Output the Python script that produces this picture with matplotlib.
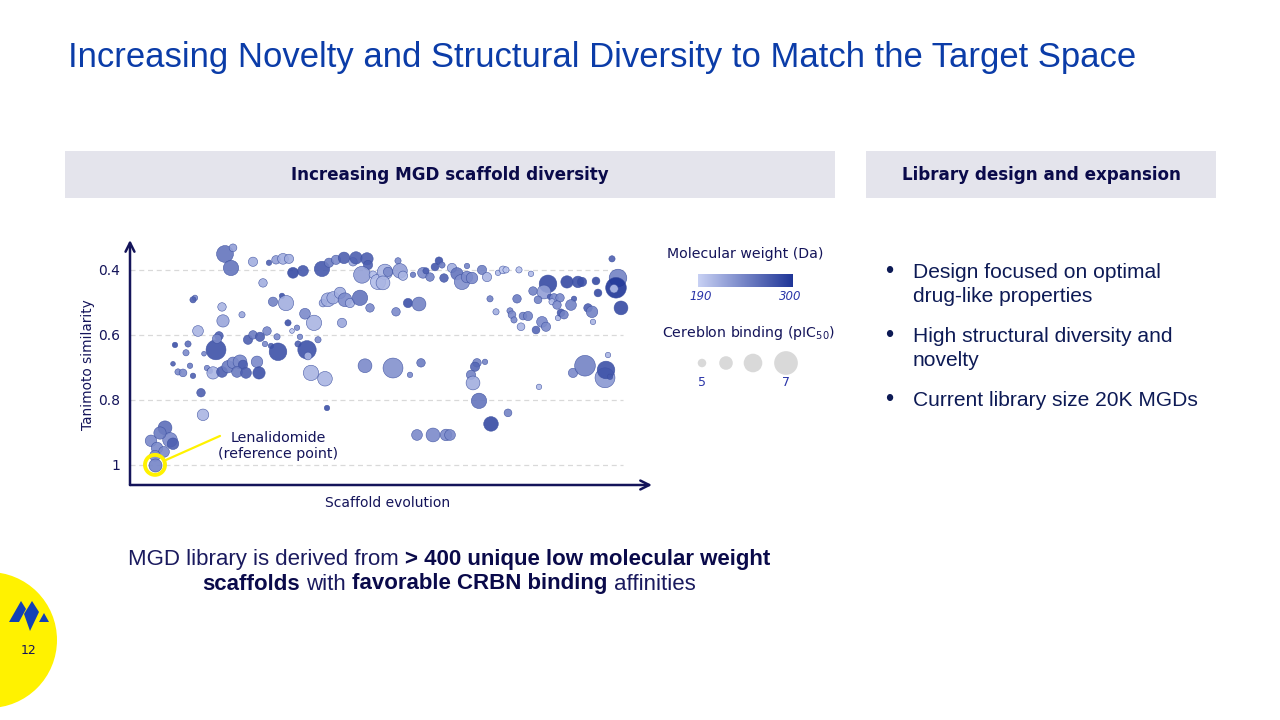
import matplotlib
matplotlib.use('Agg')
import numpy as np
import matplotlib.pyplot as plt
from matplotlib.colors import LinearSegmentedColormap
from matplotlib.patches import Rectangle, Circle, Polygon

W, H, DPI = 1280, 720, 100

# ---- data -----------------------------------------------------------------
# scaffold evolution (unitless position), Tanimoto similarity to lenalidomide,
# molecular weight in Da (colour) and Cereblon binding pIC50 (bubble size)
scaffold = [
    7.0, 4.2, 8.0, 6.0, 5.4, 8.6, 6.8, 5.0,
    14.2, 14.6,
    9.0, 11.6, 11.2, 8.6, 9.6, 10.6, 12.0, 12.6, 15.4, 16.0, 16.6,
    13.0, 12.6, 13.6, 17.2, 17.8, 17.4, 18.4, 18.6, 22.4, 14.8,
    18.4, 19.6, 20.6, 22.0, 22.6, 21.4, 23.2, 25.4, 25.8,
    23.6, 24.6, 26.0, 27.4, 27.0, 28.2, 29.6, 29.4, 31.6, 32.4, 33.4, 34.0, 33.6, 35.4, 35.6, 37.6, 36.8, 35.0, 42.4, 36.2, 39.0, 39.4,
    19.0, 20.6, 20.2, 24.6, 26.6, 27.8, 29.2, 30.6, 31.8, 32.6, 34.6, 38.4, 39.8, 41.2, 42.8, 44.6, 45.2, 47.4, 47.6, 46.4, 48.6, 49.6,
    30.4, 28.6, 31.2, 38.6, 39.6, 40.6, 42.0, 43.0, 44.0, 46.0, 48.0,
    51.0, 50.6, 51.6, 53.6, 54.0, 54.6, 56.6, 58.6, 59.2, 60.0, 61.0, 61.8, 62.4, 62.8, 64.4, 65.4, 66.4, 67.4, 67.4, 68.4, 70.4, 71.4, 73.6, 74.6, 75.2, 77.8, 80.2,
    55.6, 57.8, 53.2, 72.0, 73.2,
    96.4, 83.6, 87.4, 89.6, 90.4, 93.2, 93.6, 97.6, 97.2, 96.8, 98.2,
    77.4, 80.6, 82.8, 81.6, 84.0, 84.8, 84.4, 86.0, 85.4, 88.8, 88.2, 76.0, 76.4, 76.8, 78.6, 79.6, 78.2, 81.2, 82.4, 83.2, 85.6, 86.2, 86.8, 91.6, 92.4, 92.6,
    47.0, 52.6, 56.0, 58.2, 69.4, 69.0, 71.0, 68.2, 68.6, 69.8, 75.6, 72.2, 57.4, 60.6, 63.2, 64.0, 81.8, 88.6, 91.0, 95.0, 95.2, 96.0, 95.6,
]
tanimoto = [
    0.886, 0.926, 0.923, 0.902, 0.948, 0.935, 0.960, 0.972,
    0.778, 0.846,
    0.631, 0.628, 0.655, 0.689, 0.714, 0.717, 0.695, 0.726, 0.702, 0.711, 0.717,
    0.486, 0.492, 0.588, 0.646, 0.603, 0.612, 0.514, 0.557, 0.538, 0.658,
    0.714, 0.698, 0.686, 0.683, 0.692, 0.714, 0.717, 0.683, 0.717,
    0.615, 0.600, 0.606, 0.588, 0.628, 0.634, 0.652, 0.606, 0.563, 0.588, 0.578, 0.606, 0.628, 0.646, 0.665, 0.615, 0.563, 0.535, 0.563, 0.717, 0.735, 0.825,
    0.351, 0.332, 0.394, 0.375, 0.440, 0.378, 0.369, 0.366, 0.366, 0.409, 0.403, 0.397, 0.378, 0.369, 0.363, 0.375, 0.363, 0.366, 0.385, 0.415, 0.415, 0.437,
    0.480, 0.498, 0.502, 0.502, 0.492, 0.486, 0.471, 0.492, 0.502, 0.486, 0.517,
    0.406, 0.440, 0.406, 0.372, 0.403, 0.418, 0.415, 0.409, 0.403, 0.422, 0.391, 0.372, 0.385, 0.425, 0.394, 0.412, 0.437, 0.422, 0.388, 0.425, 0.400, 0.422, 0.409, 0.400, 0.400, 0.400, 0.412,
    0.502, 0.505, 0.529, 0.489, 0.529,
    0.366, 0.443, 0.437, 0.437, 0.437, 0.434, 0.471, 0.425, 0.455, 0.458, 0.517,
    0.489, 0.465, 0.468, 0.492, 0.483, 0.486, 0.498, 0.486, 0.508, 0.489, 0.508, 0.526, 0.538, 0.554, 0.542, 0.542, 0.575, 0.585, 0.560, 0.575, 0.548, 0.532, 0.538, 0.517, 0.529, 0.560,
    0.695, 0.702, 0.723, 0.686, 0.686, 0.698, 0.683, 0.723, 0.748, 0.803, 0.840, 0.874, 0.908, 0.908, 0.908, 0.908, 0.760, 0.717, 0.695, 0.732, 0.708, 0.729, 0.662,
]
mol_weight = [
    260, 240, 240, 250, 240, 270, 240, 240,
    270, 210,
    280, 260, 240, 270, 240, 240, 250, 270, 240, 270, 210,
    240, 270, 210, 280, 270, 240, 210, 220, 220, 240,
    270, 250, 240, 240, 270, 250, 270, 240, 280,
    270, 250, 270, 240, 240, 270, 280, 240, 280, 200, 240, 240, 270, 280, 210, 240, 210, 240, 220, 210, 210, 280,
    255, 225, 255, 215, 215, 270, 225, 215, 215, 285, 275, 275, 250, 240, 270, 220, 270, 270, 270, 225, 205, 205,
    280, 245, 215, 215, 215, 215, 215, 240, 215, 255, 240,
    210, 210, 240, 240, 225, 210, 250, 240, 270, 245, 275, 280, 250, 270, 215, 255, 235, 240, 245, 240, 245, 210, 205, 200, 200, 200, 205,
    280, 245, 240, 245, 215,
    270, 285, 285, 280, 280, 285, 285, 245, 300, 205, 285,
    250, 245, 225, 245, 270, 240, 205, 240, 240, 270, 245, 240, 240, 240, 245, 245, 210, 265, 240, 240, 210, 275, 245, 270, 245, 210,
    240, 235, 240, 250, 245, 265, 245, 245, 215, 255, 245, 285, 240, 240, 240, 240, 205, 240, 245, 230, 280, 275, 210,
]
pic50 = [
    5.7, 5.4, 5.8, 5.5, 5.4, 5.4, 5.3, 5.3,
    5.0, 5.4,
    4.6, 4.7, 4.7, 4.5, 4.7, 4.9, 4.6, 4.6, 4.6, 4.6, 5.5,
    4.6, 4.7, 5.3, 6.5, 5.0, 5.1, 5.0, 5.5, 4.7, 4.5,
    5.3, 5.5, 5.4, 5.7, 5.1, 5.3, 5.3, 5.4, 5.5,
    5.1, 5.0, 5.1, 5.0, 4.6, 4.6, 6.2, 4.7, 4.7, 4.5, 4.6, 4.6, 4.7, 6.3, 4.9, 4.7, 5.9, 5.3, 5.1, 5.9, 5.8, 4.6,
    6.1, 4.9, 5.9, 5.1, 5.0, 4.6, 5.0, 5.3, 5.1, 5.3, 5.3, 5.9, 5.1, 5.1, 5.4, 5.0, 5.5, 5.5, 5.1, 6.1, 4.9, 5.9,
    4.6, 5.1, 5.9, 4.9, 5.7, 5.5, 5.4, 5.7, 5.1, 5.9, 5.0,
    5.9, 5.7, 5.1, 4.7, 5.8, 5.1, 4.6, 5.3, 4.7, 5.0, 4.9, 4.9, 4.7, 5.0, 5.1, 5.5, 5.9, 5.4, 4.6, 5.4, 5.1, 5.1, 4.6, 4.9, 4.7, 4.7, 4.6,
    5.1, 5.7, 5.0, 4.7, 4.7,
    4.7, 6.2, 5.5, 5.4, 5.1, 4.9, 4.9, 6.2, 6.6, 5.0, 5.7,
    5.0, 5.0, 5.7, 4.9, 4.6, 5.0, 4.7, 5.0, 5.0, 4.6, 5.3, 4.7, 4.9, 4.7, 4.9, 5.1, 4.9, 4.9, 5.3, 5.1, 4.6, 4.9, 5.0, 5.0, 5.4, 4.6,
    5.7, 6.5, 4.6, 5.0, 5.0, 5.1, 4.6, 5.1, 5.7, 5.9, 4.9, 5.8, 5.3, 5.7, 5.4, 5.3, 4.6, 5.1, 6.6, 6.5, 6.2, 4.6, 4.6,
]
assert len(scaffold) == len(tanimoto) == len(mol_weight) == len(pic50)

# lenalidomide, the reference compound
lena_scaffold, lena_tanimoto, lena_mw, lena_pic50 = 5.0, 1.0, 240, 5.6

y_ticks = [0.4, 0.6, 0.8, 1.0]
y_tick_labels = ['0.4', '0.6', '0.8', '1']
mw_range = [190, 300]
size_legend = [5.0, 5.67, 6.33, 7.0]
size_legend_labels = ['5', '', '', '7']

bullets = [['Design focused on optimal', 'drug-like properties'],
           ['High structural diversity and', 'novelty'],
           ['Current library size 20K MGDs']]

# ---- styles -----------------------------------------------------------------
NAVY = '#14145a'
TITLE_BLUE = '#0b3ca8'
BAND = '#e4e4ec'
YELLOW = '#fff200'
LEG_BLUE = '#2a35a8'
ARIAL = ['Liberation Sans', 'DejaVu Sans']
TAHOMA = ['DejaVu Sans']

cmap = LinearSegmentedColormap.from_list('mw', ['#c8d1f4', '#1f3597'])


def bubble_area(p):
    d_px = 8.5 + (np.asarray(p, dtype=float) - 5) * 7.6
    return (d_px * 72 / DPI) ** 2


fig = plt.figure(figsize=(W / DPI, H / DPI), dpi=DPI)
renderer = fig.canvas.get_renderer()

# slide canvas in pixel coordinates
bg = fig.add_axes([0, 0, 1, 1], zorder=0)
bg.axis('off')


def fit(t, width):
    w = t.get_window_extent(renderer).width
    t.set_fontsize(t.get_fontsize() * width / w)
    return t.get_fontsize()


# title
t = bg.text(68, 57, 'Increasing Novelty and Structural Diversity to Match the Target Space',
            family=ARIAL, fontsize=24, color=TITLE_BLUE, va='center', ha='left')
fit(t, 1065)

# header bands
bg.add_patch(Rectangle((65, 151), 770, 47, color=BAND, lw=0))
bg.add_patch(Rectangle((866, 151), 350, 47, color=BAND, lw=0))
t = bg.text(450, 175, 'Increasing MGD scaffold diversity', family=TAHOMA, fontweight='bold',
            fontsize=11, color='#0a0a4a', ha='center', va='center')
hs = fit(t, 316)
bg.text(1041, 175, 'Library design and expansion', family=TAHOMA, fontweight='bold',
        fontsize=hs, color='#0a0a4a', ha='center', va='center')

# bullets
bsize = None
for i, lines in enumerate(bullets):
    y0 = 272 + i * 64
    bg.text(885, y0, '\u2022', family=ARIAL, fontsize=17, color='#0d1a55', ha='left', va='center')
    for j, line in enumerate(lines):
        t = bg.text(913, y0 + j * 25, line, family=ARIAL, fontsize=14, color='#0d1a55',
                    ha='left', va='center')
        if bsize is None:
            bsize = fit(t, 250)
        else:
            t.set_fontsize(bsize)


# bottom statement with mixed weights
def rich_line(parts, xc, yc, size):
    ts = [bg.text(0, yc, s, family=ARIAL, fontsize=size,
                  fontweight='bold' if b else 'normal',
                  color='#0a0a4a' if b else '#1a1a5e', va='center', ha='left')
          for s, b in parts]
    ws = [tt.get_window_extent(renderer).width for tt in ts]
    gap = 0.278 * size * DPI / 72
    total = sum(ws) + gap * (len(ts) - 1)
    x = xc - total / 2
    for tt, w in zip(ts, ws):
        tt.set_x(x)
        x += w + gap
    return ts, total


line1 = [('MGD library is derived from', False), ('> 400 unique low molecular weight', True)]
line2 = [('scaffolds', True), ('with', False), ('favorable CRBN binding', True), ('affinities', False)]
# scale so that the first line spans its width on the slide
probe, tmp = rich_line(line1, -5000, -100, 14)
for tt in probe:
    tt.remove()
bottom_size = 14 * 647 / tmp
rich_line(line1, 449.5, 560, bottom_size)
rich_line(line2, 449, 584, bottom_size)

# legend: molecular weight colour bar
t = bg.text(745, 254, 'Molecular weight (Da)', family=TAHOMA, fontsize=10, color=NAVY,
            ha='center', va='center')
fit(t, 156)
bg.imshow(np.linspace(0, 1, 256)[None, :], extent=(698, 793, 287, 274), cmap=cmap,
          aspect='auto', interpolation='bilinear')
bg.text(701, 297, str(mw_range[0]), family=TAHOMA, style='italic', fontsize=8.5,
        color=LEG_BLUE, ha='center', va='center')
bg.text(790, 297, str(mw_range[1]), family=TAHOMA, style='italic', fontsize=8.5,
        color=LEG_BLUE, ha='center', va='center')

# legend: Cereblon binding bubble sizes
t = bg.text(749, 333, 'Cereblon binding (pIC$_{50}$)', family=TAHOMA, fontsize=10,
            color=NAVY, ha='center', va='center')
fit(t, 173)
leg_x = [702, 726, 753, 786]
bg.scatter(leg_x, [363] * 4, s=bubble_area(size_legend), color='#d9d9d9', lw=0)
for x, lab in zip(leg_x, size_legend_labels):
    if lab:
        bg.text(x, 383, lab, family=TAHOMA, fontsize=9, color=LEG_BLUE, ha='center', va='center')

# logo / page number
bg.add_patch(Circle((-11, 640), 68, color=YELLOW, lw=0))
for pts in ([(9, 622), (21, 601), (26, 609), (19, 622)],
            [(24, 614), (32, 601), (39, 612), (30, 631)],
            [(39, 622), (44, 613), (49, 622)]):
    bg.add_patch(Polygon(pts, closed=True, color='#1241b5', lw=0))
bg.text(29, 651, '12', family=TAHOMA, fontsize=9, color=NAVY, ha='center', va='center')

bg.set_xlim(0, W)
bg.set_ylim(H, 0)

# ---- the bubble chart ------------------------------------------------------
ax = fig.add_axes([130 / W, 1 - 485 / H, 522 / W, 245 / H], zorder=2)
ax.patch.set_alpha(0)
ax.set_xlim(0, 104.4)
ax.set_ylim(1.062, 0.308)
for s in ax.spines.values():
    s.set_visible(False)

ax.hlines(y_ticks, 0, 98.5, color='#d9d9d9', lw=0.9, linestyle=(0, (4, 3)), zorder=1)

ax.scatter(scaffold, tanimoto, s=bubble_area(pic50), c=mol_weight, cmap=cmap,
           vmin=mw_range[0], vmax=mw_range[1], alpha=0.9, edgecolors='#3b4fa0',
           linewidths=0.4, zorder=3, clip_on=False)

# lenalidomide highlighted with a yellow ring
ax.scatter([lena_scaffold], [lena_tanimoto], s=bubble_area([lena_pic50]), c=[lena_mw],
           cmap=cmap, vmin=mw_range[0], vmax=mw_range[1], alpha=0.95,
           edgecolors='#3b4fa0', linewidths=0.4, zorder=4, clip_on=False)
ax.scatter([lena_scaffold], [lena_tanimoto], s=(20 * 72 / DPI) ** 2, facecolors='none',
           edgecolors=YELLOW, linewidths=2.8, zorder=5, clip_on=False)
ax.annotate('', xy=(lena_scaffold, lena_tanimoto), xytext=(18, 0.911),
            arrowprops=dict(arrowstyle='-', color=YELLOW, lw=1.6, shrinkA=0, shrinkB=8),
            zorder=5)
t = ax.text(29.6, 0.942, 'Lenalidomide\n(reference point)', family=TAHOMA, fontsize=10,
            color=NAVY, ha='center', va='center', linespacing=1.25)
fit(t, 120)

ax.set_yticks(y_ticks)
ax.set_yticklabels(y_tick_labels, family=TAHOMA, fontsize=10, color=NAVY)
ax.set_xticks([])
ax.tick_params(axis='y', length=0, pad=7)

# axis arrows
arrow = dict(arrowstyle='->', lw=1.8, color=NAVY, mutation_scale=16, shrinkA=0, shrinkB=0)
ax.annotate('', xy=(0, 1), xytext=(0, 0), xycoords='axes fraction', arrowprops=arrow)
ax.annotate('', xy=(1, 0), xytext=(0, 0), xycoords='axes fraction', arrowprops=arrow)

t = bg.text(88, 365, 'Tanimoto similarity', family=TAHOMA, fontsize=10, color=NAVY,
            rotation=90, ha='center', va='center')
fit_h = t.get_window_extent(renderer).height
t.set_fontsize(t.get_fontsize() * 130 / fit_h)
t = bg.text(388, 503, 'Scaffold evolution', family=TAHOMA, fontsize=10, color=NAVY,
            ha='center', va='center')
fit(t, 125)

fig.savefig('out.png', dpi=DPI, facecolor='white')
